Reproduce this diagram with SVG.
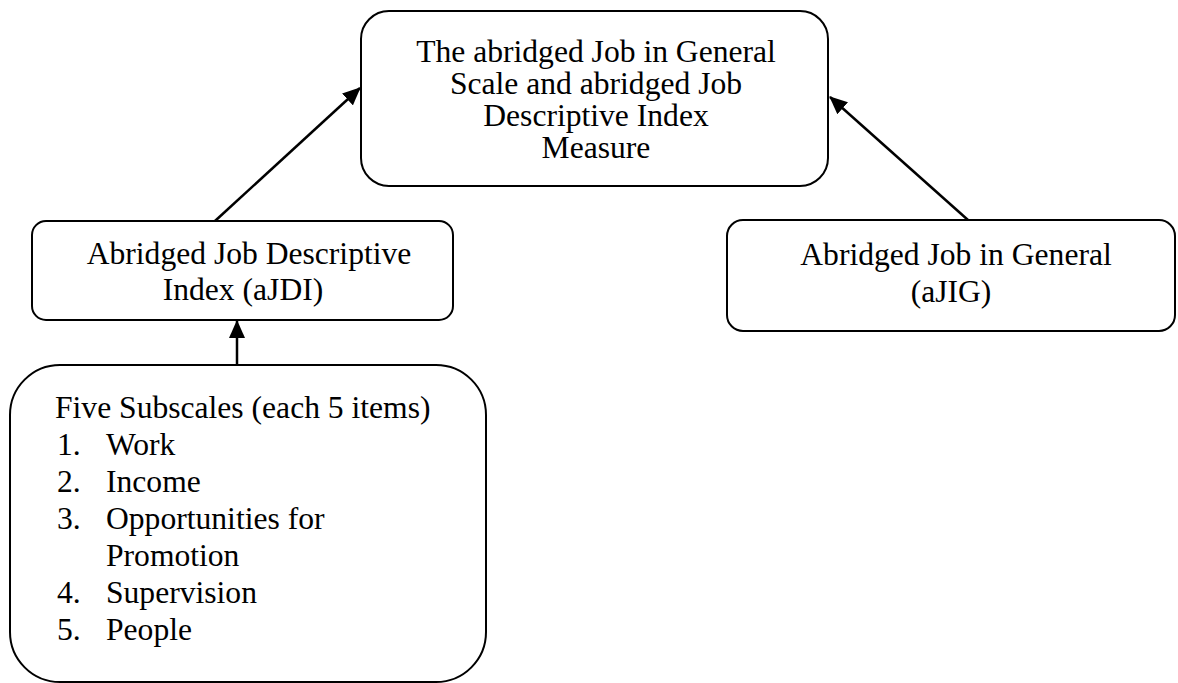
<svg xmlns="http://www.w3.org/2000/svg" width="1178" height="683" viewBox="0 0 1178 683">
<style>
.box{fill:#fff;stroke:#000;stroke-width:2}
.t{font-family:"Liberation Serif","Times New Roman",serif;font-size:31.6px;fill:#000}
.c{text-anchor:middle}
.ln{stroke:#000;stroke-width:2.5;fill:none}
</style>
<defs>
<marker id="ah" markerUnits="userSpaceOnUse" markerWidth="18" markerHeight="16" viewBox="0 0 18 16" refX="17" refY="8" orient="auto">
<path d="M0,0 L18,8 L0,16 Z" fill="#000"/>
</marker>
</defs>
<rect width="1178" height="683" fill="#fff"/>
<g id="connectors">
<line class="ln" x1="215" y1="221" x2="360" y2="88" marker-end="url(#ah)"/>
<line class="ln" x1="968" y1="220" x2="830" y2="97" marker-end="url(#ah)"/>
<line class="ln" x1="237" y1="365" x2="237" y2="321" marker-end="url(#ah)"/>
</g>
<g id="node-measure">
<rect class="box" x="361" y="11" width="467" height="175" rx="28"/>
<text class="t c" x="596" y="62">The abridged Job in General</text>
<text class="t c" x="596" y="94">Scale and abridged Job</text>
<text class="t c" x="596" y="126">Descriptive Index</text>
<text class="t c" x="596" y="158">Measure</text>
</g>
<g id="node-ajdi">
<rect class="box" x="32" y="221" width="421" height="99" rx="14"/>
<text class="t c" x="249" y="264">Abridged Job Descriptive</text>
<text class="t c" x="243" y="300">Index (aJDI)</text>
</g>
<g id="node-ajig">
<rect class="box" x="727" y="220" width="448" height="111" rx="16"/>
<text class="t c" x="956" y="265">Abridged Job in General</text>
<text class="t c" x="951" y="302">(aJIG)</text>
</g>
<g id="node-subscales">
<rect class="box" x="10" y="365" width="476" height="317" rx="50"/>
<text class="t" x="55" y="418">Five Subscales (each 5 items)</text>
<text class="t" x="57" y="455">1.</text><text class="t" x="106" y="455">Work</text>
<text class="t" x="57" y="492">2.</text><text class="t" x="106" y="492">Income</text>
<text class="t" x="57" y="529">3.</text><text class="t" x="106" y="529">Opportunities for</text>
<text class="t" x="106" y="566">Promotion</text>
<text class="t" x="57" y="603">4.</text><text class="t" x="106" y="603">Supervision</text>
<text class="t" x="57" y="640">5.</text><text class="t" x="106" y="640">People</text>
</g>
</svg>
